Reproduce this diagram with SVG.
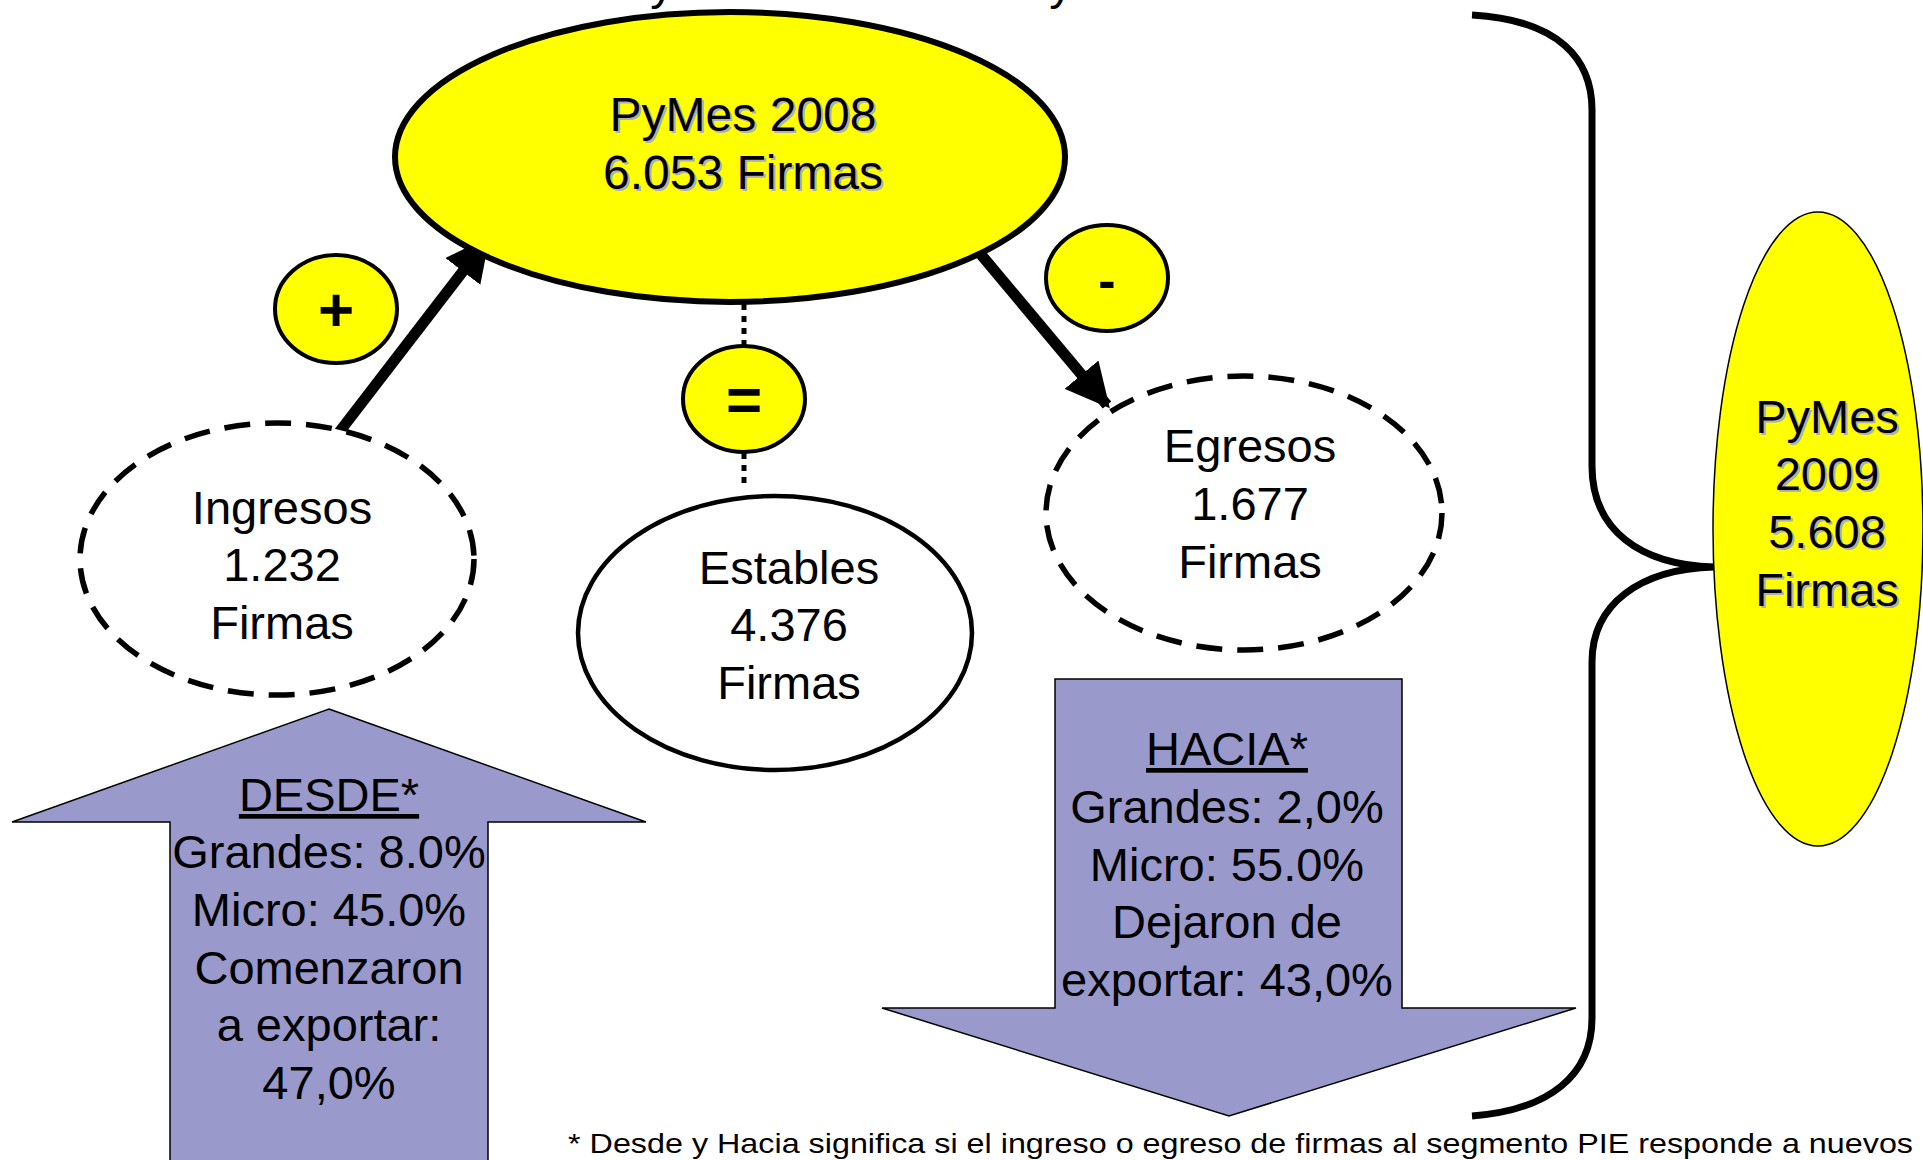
<svg xmlns="http://www.w3.org/2000/svg" width="1923" height="1160" viewBox="0 0 1923 1160">
<style>
text{font-family:"Liberation Sans",Arial,sans-serif;fill:#000;text-anchor:middle}
.t{font-size:47px}
.sh{fill:#b0b0b0}
.yel{fill:#ffff00;stroke:#000}
.dash{fill:#fff;stroke:#000;stroke-width:5.5;stroke-dasharray:26 15}
.blue{fill:#9999cc;stroke:#000;stroke-width:1.5}
.conn{stroke:#000;fill:none}
.sym{font-size:62px;font-weight:bold}
</style>
<defs>
<marker id="ah" viewBox="0 0 10 10" refX="9" refY="5" markerWidth="4" markerHeight="4" orient="auto" markerUnits="strokeWidth">
<path d="M0,0 L10,5 L0,10 z" fill="#000"/>
</marker>
</defs>
<rect width="1923" height="1160" fill="#fff"/>
<text class="t" x="662" y="-1">y</text>
<text class="t" x="1061" y="-1">y</text>

<g id="brace">
<path class="conn" stroke-width="7" d="M1472,15 C1560,20 1592,60 1592,110 L1592,466 C1592,530 1640,565 1714,567 C1640,569 1592,604 1592,662 L1592,1018 C1592,1075 1550,1110 1472,1116"/>
</g>

<g id="connectors">
<line class="conn" x1="744" y1="304" x2="744" y2="346" stroke-width="5" stroke-dasharray="6 6"/>
<line class="conn" x1="744" y1="453" x2="744" y2="484" stroke-width="5" stroke-dasharray="6 6"/>
<line class="conn" x1="337" y1="435" x2="487" y2="240" stroke-width="11" marker-end="url(#ah)"/>
<line class="conn" x1="973" y1="245" x2="1107" y2="405" stroke-width="11" marker-end="url(#ah)"/>
</g>

<g id="pymes2008">
<ellipse class="yel" cx="730" cy="157" rx="335" ry="145" stroke-width="6"/>
<text class="t sh" x="745" y="133" style="font-size:48px">PyMes 2008</text>
<text class="t sh" x="745" y="191" style="font-size:48px">6.053 Firmas</text>
<text class="t" x="743" y="131" style="font-size:48px">PyMes 2008</text>
<text class="t" x="743" y="189" style="font-size:48px">6.053 Firmas</text>
</g>

<g id="plus">
<ellipse class="yel" cx="336" cy="309" rx="61" ry="54" stroke-width="4"/>
<text class="sym" x="336" y="331">+</text>
</g>
<g id="equal">
<ellipse class="yel" cx="744" cy="399" rx="61" ry="53" stroke-width="4"/>
<text class="sym" x="744" y="421">=</text>
</g>
<g id="minus">
<ellipse class="yel" cx="1107" cy="278" rx="61" ry="53" stroke-width="4"/>
<text class="sym" x="1107" y="298" style="font-size:52px">-</text>
</g>

<g id="ingresos">
<ellipse class="dash" cx="277" cy="559" rx="197" ry="136"/>
<text class="t" x="282" y="524">Ingresos</text>
<text class="t" x="282" y="581">1.232</text>
<text class="t" x="282" y="639">Firmas</text>
</g>

<g id="estables">
<ellipse cx="775" cy="633" rx="197" ry="137" fill="#fff" stroke="#000" stroke-width="4.5"/>
<text class="t" x="789" y="584">Estables</text>
<text class="t" x="789" y="641">4.376</text>
<text class="t" x="789" y="699">Firmas</text>
</g>

<g id="egresos">
<ellipse class="dash" cx="1244" cy="513" rx="198" ry="137"/>
<text class="t" x="1250" y="462">Egresos</text>
<text class="t" x="1250" y="520">1.677</text>
<text class="t" x="1250" y="578">Firmas</text>
</g>

<g id="desde">
<polygon class="blue" points="329,709 646,822 488,822 488,1162 170,1162 170,822 12,822"/>
<text class="t" x="329" y="811" text-decoration="underline">DESDE*</text>
<text class="t" x="329" y="868">Grandes: 8.0%</text>
<text class="t" x="329" y="926">Micro: 45.0%</text>
<text class="t" x="329" y="984">Comenzaron</text>
<text class="t" x="329" y="1041">a exportar:</text>
<text class="t" x="329" y="1099">47,0%</text>
</g>

<g id="hacia">
<polygon class="blue" points="1055,679 1402,679 1402,1008 1576,1008 1229,1116 882,1008 1055,1008"/>
<text class="t" x="1227" y="765" text-decoration="underline">HACIA*</text>
<text class="t" x="1227" y="823">Grandes: 2,0%</text>
<text class="t" x="1227" y="881">Micro: 55.0%</text>
<text class="t" x="1227" y="938">Dejaron de</text>
<text class="t" x="1227" y="996">exportar: 43,0%</text>
</g>

<g id="pymes2009">
<ellipse class="yel" cx="1818" cy="529" rx="105" ry="317" stroke-width="1.5"/>
<text class="t sh" x="1829" y="435">PyMes</text>
<text class="t sh" x="1829" y="492">2009</text>
<text class="t sh" x="1829" y="550">5.608</text>
<text class="t sh" x="1829" y="608">Firmas</text>
<text class="t" x="1827" y="433">PyMes</text>
<text class="t" x="1827" y="490">2009</text>
<text class="t" x="1827" y="548">5.608</text>
<text class="t" x="1827" y="606">Firmas</text>
</g>

<text x="568" y="1153" textLength="1345" lengthAdjust="spacingAndGlyphs" style="font-size:28px;text-anchor:start">* Desde y Hacia significa si el ingreso o egreso de firmas al segmento PIE responde a nuevos</text>
</svg>
